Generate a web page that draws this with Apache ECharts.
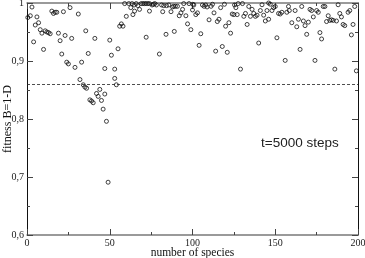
<!DOCTYPE html>
<html><head><meta charset="utf-8">
<script src="https://cdn.jsdelivr.net/npm/echarts@6/dist/echarts.min.js"></script>
<style>html,body{margin:0;padding:0;background:#fff}#c{width:365px;height:258px}</style>
</head><body><div id="c"></div>
<script>
// number of species (x) and fitness B=1-D (y)
const speciesCounts = [0.5,2,3,4,5,6,7,8,9,10,11,12,13,14,15,16,17,18,19,20,21,22,23,24,25,26,27,29,31,32,33,34,35,36,35.5,37,38,39,40,41,42,43,44,45,46,47,47,48,49,50,51,53,53,54,55,56,57,58,59,60,61.5,62.7,63.5,64,64.7,65,66,67,68,69,70,71,72,72,73,74,74,75.6,76.4,77.2,78.2,80,81.3,82,82.6,84,84.3,85.7,87,87.9,88.7,89,89.7,90.9,92,93,94,94.7,96,97,97.9,99,100,100.2,100.8,102,103,104,105,106,107,108,108.8,110,111.2,112.1,113,114,115,116,117,118,119.3,120,121,122,123,124,125,125.4,126.2,127,127.6,129,130.2,131,132,133,134,135,136,137,138,139,140,141,142,143,144,145,146,146,147,148,149,150,151,152,153,154,156,157,158,158.5,160,162,163,164,165,166,167,168,169,170,171,172,173,174,175,176,177,178,179,180,181,182,183,184,185,186,187,188,189,190,191,192,194,195,196,197,198,199];
const fitnessValues = [.975,.978,.993,.933,.962,.976,.966,.954,.948,.920,.952,.950,.949,.947,.986,.982,.984,.984,.948,.935,.912,.985,.944,.898,.895,.992,.939,.889,.981,.868,.898,.859,.855,.853,.952,.913,.833,.831,.828,.939,.844,.839,.851,.832,.817,.843,.887,.796,.691,.936,.910,.870,.886,.859,.921,.960,.964,.960,.999,.977,.999,.992,.999,.980,.9966,.986,.999,.9955,.989,.999,.999,.999,.941,.999,.999,.986,.999,.9966,.9978,.999,.9966,.912,.9966,.985,.9955,.946,.9955,.9966,.985,.9932,.9943,.951,.9943,.9943,.978,.983,.989,.999,.978,.964,.999,.954,.988,.9978,.9966,.980,.983,.927,.947,.9966,.9943,.9966,.9932,.971,.9943,.9978,.983,.917,.968,.972,.992,.925,.9978,.960,.915,.966,.948,.981,.980,.9966,.992,.980,.999,.886,.999,.977,.982,.963,.994,.977,.989,.982,.977,.979,.931,.987,.997,.979,.969,.987,.972,1.0,.998,.987,.992,.994,.940,.982,.981,.984,.901,.984,.994,.987,.966,.987,.959,.972,.920,.994,.969,.961,.946,.967,.989,.987,.976,.901,.987,.984,.949,.938,.994,.994,.968,.978,.970,.971,.970,.886,.969,.997,.982,.976,.963,.961,.984,.987,.945,.963,.994,.883];
const thresholdFitness = [0.8645];
const xTickLabels = ['0','50','100','150','200'];
const yTickLabels = ['0,6','0,7','0,8','0,9','1'];
const annotationText = ['t=5000 steps'];

const points = speciesCounts.map((x,i)=>[x, fitnessValues[i]]);
const serif = '"Liberation Serif", "Times New Roman", serif';

const chart = echarts.init(document.getElementById('c'), null, {renderer:'canvas'});
const xCommon = {type:'value', min:0, max:200, interval:50,
  axisLine:{show:true, onZero:false, lineStyle:{color:'#7a7a7a', width:1.5}},
  axisTick:{show:true, inside:true, length:6, lineStyle:{color:'#444', width:1}},
  minorTick:{show:true, splitNumber:2, length:3, lineStyle:{color:'#444', width:1}},
  splitLine:{show:false}, minorSplitLine:{show:false}};
const yCommon = {type:'value', min:0.6, max:1, interval:0.1,
  axisLine:{show:true, onZero:false, lineStyle:{color:'#111', width:1}},
  axisTick:{show:true, inside:true, length:6, lineStyle:{color:'#444', width:1}},
  minorTick:{show:true, splitNumber:2, length:3, lineStyle:{color:'#444', width:1}},
  splitLine:{show:false}, minorSplitLine:{show:false}};

chart.setOption({
  animation:false,
  backgroundColor:'#fff',
  grid:{left:27, right:7, top:3, bottom:23, containLabel:false, outerBoundsMode:'none'},
  xAxis:[
    Object.assign({}, xCommon, {position:'bottom',
      axisLabel:{fontFamily:serif, fontSize:10, color:'#222', margin:3,
        formatter:(v)=>xTickLabels[Math.round(v/50)]},
      name:'number of species', nameLocation:'middle', nameGap:12, nameMoveOverlap:false,
      nameTextStyle:{fontFamily:serif, fontSize:11.5, color:'#111'}}),
    Object.assign({}, xCommon, {position:'top', axisLabel:{show:false}})
  ],
  yAxis:[
    Object.assign({}, yCommon, {position:'left',
      axisLabel:{fontFamily:serif, fontSize:10, color:'#222', margin:3,
        formatter:(v)=>yTickLabels[Math.round((v-0.6)*10)]},
      name:'fitness B=1-D', nameLocation:'middle', nameGap:13, nameMoveOverlap:false,
      nameTextStyle:{fontFamily:serif, fontSize:12, color:'#111'}}),
    Object.assign({}, yCommon, {position:'right', axisLabel:{show:false}})
  ],
  series:[{
    type:'scatter', xAxisIndex:0, yAxisIndex:0,
    symbol:'circle', symbolSize:4, clip:false,
    itemStyle:{color:'rgba(255,255,255,0)', borderColor:'#111', borderWidth:0.8, opacity:1},
    data:points,
    markLine:{silent:true, symbol:'none', label:{show:false},
      lineStyle:{type:[3,2], color:'#222', width:0.8},
      data:thresholdFitness.map(v=>({yAxis:v}))}
  }],
  graphic:[{type:'text', left:261, top:136,
    style:{text:annotationText[0], font:'13.5px "Liberation Sans", Arial, sans-serif', fill:'#222'}}]
});
</script></body></html>
